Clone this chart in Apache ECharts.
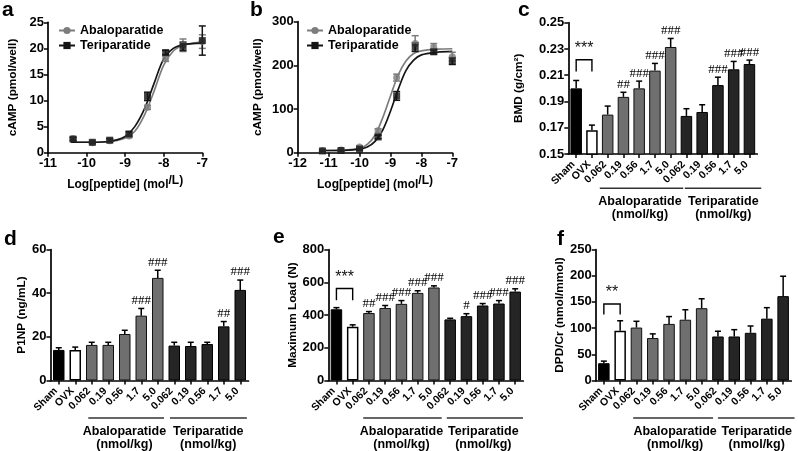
<!DOCTYPE html>
<html><head><meta charset="utf-8">
<script src="https://cdn.jsdelivr.net/npm/echarts@6/dist/echarts.min.js"></script>
<style>html,body{margin:0;padding:0;background:#fff}#c{width:798px;height:451px}</style>
</head><body><div id="c"></div>
<script>
// ---------------- DATA ----------------
// Panel a (cAMP, pmol/well)
const aPointX      = [-10.35, -9.85, -9.4, -8.9, -8.42, -7.95, -7.5, -7.0];
const aAbaloY      = [2.7, 1.9, 2.3, 3.2, 8.7, 18.0, 20.6, 21.3];
const aAbaloErr    = [0.3, 0.2, 0.3, 0.3, 0.4, 0.5, 1.2, 1.3];
const aTeriY       = [2.6, 2.0, 2.4, 3.6, 10.8, 19.2, 20.4, 21.5];
const aTeriErr     = [0.3, 0.2, 0.3, 0.4, 0.8, 0.4, 0.8, 2.8];
const aCurveX      = [-10.4, -10.0, -9.5, -9.25, -9.0, -8.75, -8.5, -8.25, -8.0, -7.75, -7.5, -7.25, -7.0];
const aAbaloCurve  = [2.0, 2.0, 2.05, 2.3, 2.8, 4.1, 7.2, 11.8, 16.8, 19.5, 20.6, 21.0, 21.2];
const aTeriCurve   = [2.0, 2.0, 2.1, 2.4, 3.1, 5.0, 8.4, 13.3, 18.0, 20.0, 20.7, 20.9, 21.0];

// Panel b (cAMP, pmol/well)
const bPointX      = [-11.2, -10.6, -10.0, -9.4, -8.8, -8.2, -7.6, -7.0];
const bAbaloY      = [5, 6, 13, 50, 172, 250, 242, 220];
const bAbaloErr    = [2, 2, 3, 5, 8, 18, 8, 10];
const bTeriY       = [4, 5, 8, 36, 130, 242, 231, 210];
const bTeriErr     = [1, 1, 2, 4, 10, 10, 5, 8];
const bCurveX      = [-11.2, -10.5, -10.0, -9.75, -9.5, -9.25, -9.0, -8.75, -8.5, -8.25, -8.0, -7.5, -7.0];
const bAbaloCurve  = [5, 6, 10, 19, 40, 80, 130, 178, 210, 227, 233, 237, 238];
const bTeriCurve   = [5, 5.5, 8, 13, 26, 52, 95, 145, 188, 212, 224, 230, 232];

// Bar panels: shared categories
const barCategories = ['Sham', 'OVX', '0.062', '0.19', '0.56', '1.7', '5.0', '0.062', '0.19', '0.56', '1.7', '5.0'];
const barGroupOf    = [0, 1, 2, 2, 2, 2, 2, 3, 3, 3, 3, 3]; // 0 Sham, 1 OVX, 2 Abaloparatide, 3 Teriparatide
const groupNames    = ['Abaloparatide', 'Teriparatide'];
const groupUnit     = '(nmol/kg)';

// Panel c: BMD (g/cm2)
const cBMD     = [0.200, 0.168, 0.180, 0.1935, 0.200, 0.2135, 0.2315, 0.179, 0.182, 0.2025, 0.2145, 0.2185];
const cBMDErr  = [0.006, 0.004, 0.0065, 0.0035, 0.0055, 0.0055, 0.0065, 0.0055, 0.0055, 0.006, 0.006, 0.003];
const cMarks   = ['', '', '', '##', '###', '###', '###', '', '', '###', '###', '###'];
const cBracket = [0.2218, 0.2128, '***'];

// Panel d: P1NP (ng/mL)
const dP1NP    = [14.0, 14.0, 16.3, 16.3, 21.3, 29.7, 47.0, 16.0, 15.8, 16.7, 24.8, 41.5];
const dP1NPErr = [1.0, 1.3, 1.2, 1.2, 1.7, 3.3, 3.5, 1.5, 1.7, 0.8, 2.2, 4.5];
const dMarks   = ['', '', '', '', '', '###', '###', '', '', '', '##', '###'];

// Panel e: Maximum Load (N)
const eLoad    = [435, 328, 412, 443, 468, 535, 568, 373, 393, 458, 470, 543];
const eLoadErr = [10, 12, 9, 15, 20, 13, 10, 7, 15, 12, 18, 17];
const eMarks   = ['', '', '##', '###', '###', '###', '###', '', '#', '###', '###', '###'];
const eBracket = [562, 490, '***'];

// Panel f: DPD/Cr (nmol/mmol)
const fDPD     = [33, 95, 101, 81, 108, 116, 138, 84, 84, 91, 118, 161];
const fDPDErr  = [4, 19, 12, 8, 14, 19, 18, 10, 13, 13, 21, 38];
const fMarks   = ['', '', '', '', '', '', '', '', '', '', '', ''];
const fBracket = [146, 126, '**'];

// ---------------- STYLE / LAYOUT ----------------
const FONT = 'Liberation Sans, Arial, sans-serif';
const GRAY = '#7d7d7d', BLACK = '#151515';
const barStyles = [
  { color: '#000', borderColor: '#000', borderWidth: 1 },
  { color: '#fff', borderColor: '#000', borderWidth: 1.5 },
  { color: '#6f6f6f', borderColor: '#111', borderWidth: 1 },
  { color: '#252525', borderColor: '#000', borderWidth: 1 }
];
const grids = [
  { left: 48,    top: 22.3,  width: 154.3, height: 130.4 },
  { left: 297.7, top: 21.7,  width: 154.6, height: 131 },
  { left: 568.3, top: 22.7,  width: 189,   height: 131.3 },
  { left: 50.5,  top: 249.5, width: 198,   height: 131 },
  { left: 328.3, top: 249.5, width: 195,   height: 131 },
  { left: 595.7, top: 249.5, width: 195.6, height: 131 }
];
const axisLine = { show: true, onZero: false, lineStyle: { color: '#000', width: 1.7 } };
const axisTick = { show: true, length: 4, lineStyle: { color: '#000', width: 1.5 } };
const tickLabel = { color: '#000', fontWeight: 'bold', fontSize: 13, fontFamily: FONT, margin: 4 };
const nameStyle = { color: '#000', fontWeight: 'bold', fontSize: 11.8, fontFamily: FONT };

function valueY(gi, min, max, interval, name, gap, fmt) {
  return {
    type: 'value', gridIndex: gi, min, max, interval,
    name, nameLocation: 'middle', nameGap: gap, nameTextStyle: nameStyle,
    axisLine, axisTick, splitLine: { show: false },
    axisLabel: Object.assign({}, tickLabel, fmt ? { formatter: fmt } : {})
  };
}
function catX(gi) {
  return {
    type: 'category', gridIndex: gi, data: barCategories,
    axisLine, axisTick: Object.assign({ alignWithLabel: true, interval: 0 }, axisTick),
    axisLabel: { interval: 0, rotate: 45, color: '#000', fontWeight: 'bold', fontSize: 10.5, fontFamily: FONT,
      margin: 6, padding: [0, 4, 0, 0] },
    splitLine: { show: false }
  };
}
const logName = {
  name: 'Log[peptide] (mol{s|/L)}', nameLocation: 'middle', nameGap: 22,
  nameTextStyle: { color: '#000', fontWeight: 'bold', fontSize: 12, fontFamily: FONT,
    rich: { s: { color: '#000', fontWeight: 'bold', fontSize: 12, fontFamily: FONT, padding: [0, 0, 8, 0] } } }
};

const xAxes = [
  Object.assign({ type: 'value', gridIndex: 0, min: -11, max: -7, interval: 1, axisLine, axisTick, axisLabel: tickLabel, splitLine: { show: false } }, logName),
  Object.assign({ type: 'value', gridIndex: 1, min: -12, max: -7, interval: 1, axisLine, axisTick, axisLabel: tickLabel, splitLine: { show: false } }, logName),
  catX(2), catX(3), catX(4), catX(5)
];
const yAxes = [
  valueY(0, 0, 25, 5, 'cAMP (pmol/well)', 29),
  valueY(1, 0, 300, 100, 'cAMP (pmol/well)', 34),
  valueY(2, 0.15, 0.25, 0.02, 'BMD (g/cm²)', 44, v => v.toFixed(2)),
  valueY(3, 0, 60, 20, 'P1NP (ng/mL)', 21),
  valueY(4, 0, 800, 200, 'Maximum Load (N)', 25),
  valueY(5, 0, 250, 50, 'DPD/Cr (nmol/mmol)', 26)
];

// ------------- series builders -------------
function zip(xs, ys) { return xs.map((x, i) => [x, ys[i]]); }

function curveSeries(gi, name, xs, ys, color, symbol) {
  return { type: 'line', name, xAxisIndex: gi, yAxisIndex: gi, data: zip(xs, ys),
    smooth: 0.35, showSymbol: false, symbol, symbolSize: 7,
    lineStyle: { color, width: 1.7 }, itemStyle: { color }, z: 2, silent: true };
}
function pointSeries(gi, xs, ys, errs, color, symbol, size) {
  return [
    { type: 'custom', xAxisIndex: gi, yAxisIndex: gi, z: 3, silent: true,
      data: xs.map((x, i) => [x, ys[i], errs[i]]),
      renderItem: (p, api) => {
        const x = api.value(0), y = api.value(1), e = api.value(2);
        const lo = api.coord([x, y - e]), hi = api.coord([x, y + e]);
        const w = 3.5, st = { stroke: color, lineWidth: 1.5 };
        return { type: 'group', children: [
          { type: 'line', shape: { x1: lo[0], y1: lo[1], x2: hi[0], y2: hi[1] }, style: st },
          { type: 'line', shape: { x1: hi[0] - w, y1: hi[1], x2: hi[0] + w, y2: hi[1] }, style: st },
          { type: 'line', shape: { x1: lo[0] - w, y1: lo[1], x2: lo[0] + w, y2: lo[1] }, style: st }
        ] };
      } },
    { type: 'scatter', xAxisIndex: gi, yAxisIndex: gi, z: 4, silent: true,
      data: zip(xs, ys), symbol, symbolSize: size, itemStyle: { color } }
  ];
}
function barSeries(gi, vals, errs, marks, bracket) {
  const out = [
    { type: 'bar', xAxisIndex: gi, yAxisIndex: gi, barWidth: 11.5, z: 2, silent: true,
      data: vals.map((v, i) => ({ value: v, itemStyle: barStyles[barGroupOf[i]] })) },
    { type: 'custom', xAxisIndex: gi, yAxisIndex: gi, z: 3, silent: true,
      data: vals.map((v, i) => [i, v, errs[i]]),
      renderItem: (p, api) => {
        const i = api.value(0), v = api.value(1), e = api.value(2);
        const b = api.coord([i, v]), t = api.coord([i, v + e]);
        const w = 3, st = { stroke: '#000', lineWidth: 1.5 };
        const ch = [
          { type: 'line', shape: { x1: b[0], y1: b[1], x2: t[0], y2: t[1] }, style: st },
          { type: 'line', shape: { x1: t[0] - w, y1: t[1], x2: t[0] + w, y2: t[1] }, style: st }
        ];
        const m = marks[p.dataIndex];
        if (m) ch.push({ type: 'text', x: t[0], y: t[1] - 8,
          style: { text: m, align: 'center', verticalAlign: 'middle', fontSize: 13, fontFamily: 'Liberation Serif, serif', fill: '#000' } });
        return { type: 'group', children: ch };
      } }
  ];
  if (bracket) {
    out.push({ type: 'custom', xAxisIndex: gi, yAxisIndex: gi, z: 3, silent: true,
      data: [[0, bracket[0], bracket[1]]],
      renderItem: (p, api) => {
        const top = api.value(1), leg = api.value(2);
        const l0 = api.coord([0, leg]), l1 = api.coord([0, top]);
        const r1 = api.coord([1, top]), r0 = api.coord([1, leg]);
        return { type: 'group', children: [
          { type: 'polyline', shape: { points: [l0, l1, r1, r0] }, style: { stroke: '#000', lineWidth: 1.4, fill: null } },
          { type: 'text', x: (l1[0] + r1[0]) / 2, y: l1[1] - 3,
            style: { text: bracket[2], align: 'center', verticalAlign: 'bottom', fontSize: 16, fontFamily: FONT, fill: '#111' } }
        ] };
      } });
  }
  return out;
}

const series = [
  curveSeries(0, 'Abaloparatide', aCurveX, aAbaloCurve, GRAY, 'circle'),
  curveSeries(0, 'Teriparatide', aCurveX, aTeriCurve, BLACK, 'rect'),
  ...pointSeries(0, aPointX, aAbaloY, aAbaloErr, GRAY, 'circle', 7),
  ...pointSeries(0, aPointX, aTeriY, aTeriErr, BLACK, 'rect', 7),
  curveSeries(1, 'Abaloparatide', bCurveX, bAbaloCurve, GRAY, 'circle'),
  curveSeries(1, 'Teriparatide', bCurveX, bTeriCurve, BLACK, 'rect'),
  ...pointSeries(1, bPointX, bAbaloY, bAbaloErr, GRAY, 'circle', 7),
  ...pointSeries(1, bPointX, bTeriY, bTeriErr, BLACK, 'rect', 7),
  ...barSeries(2, cBMD, cBMDErr, cMarks, cBracket),
  ...barSeries(3, dP1NP, dP1NPErr, dMarks, null),
  ...barSeries(4, eLoad, eLoadErr, eMarks, eBracket),
  ...barSeries(5, fDPD, fDPDErr, fMarks, fBracket)
];

function legendAt(left) {
  return { orient: 'vertical', left, top: 19, itemWidth: 16, itemHeight: 9, itemGap: 2,
    data: ['Abaloparatide', 'Teriparatide'], selectedMode: false,
    textStyle: { color: '#000', fontWeight: 'bold', fontSize: 12.5, fontFamily: FONT, padding: [0, 0, 0, 0] } };
}

const panelLetters = [['a', 2, 10.7], ['b', 250, 10.7], ['c', 518, 10.7], ['d', 4, 239.4], ['e', 273, 237.7], ['f', 557, 239.7]];

const chart = echarts.init(document.getElementById('c'), null, { renderer: 'canvas' });
chart.setOption({
  animation: false,
  backgroundColor: '#fff',
  grid: grids,
  xAxis: xAxes,
  yAxis: yAxes,
  legend: [legendAt(53), legendAt(301)],
  series
});

// group labels under bar panels (positions from the axes themselves)
// [line A start, line A end, line T start, line T end, text A centre, text T centre] in category units from axis start
const groupLayout = {
  2: [2.0, 7.3, 7.4, 12.25, 4.55, 9.84],
  3: [2.29, 6.88, 7.24, 11.9, 4.48, 9.56],
  4: [2.15, 6.98, 7.29, 11.98, 4.5, 9.54],
  5: [2.3, 7.2, 7.5, 12.2, 4.87, 9.88]
};
const rowOffsets = { top: [34.3, 47.7, 61], bottom: [37.5, 51, 64.5] };
const graphics = panelLetters.map(([t, x, y]) => ({
  type: 'text', x, y,
  style: { text: t, fontSize: 21, fontWeight: 'bold', fontFamily: FONT, fill: '#000', verticalAlign: 'middle', align: 'left' }
}));
Object.keys(groupLayout).forEach(k => {
  const gi = +k, L = groupLayout[k];
  const p0 = chart.convertToPixel({ xAxisIndex: gi }, 0);
  const p1 = chart.convertToPixel({ xAxisIndex: gi }, 1);
  const step = p1 - p0, start = p0 - step / 2;
  const base = chart.convertToPixel({ yAxisIndex: gi }, yAxes[gi].min);
  const off = gi === 2 ? rowOffsets.top : rowOffsets.bottom;
  const X = u => start + u * step;
  const lineSt = { stroke: '#333', lineWidth: 1.5 };
  graphics.push(
    { type: 'line', shape: { x1: X(L[0]), y1: base + off[0], x2: X(L[1]), y2: base + off[0] }, style: lineSt },
    { type: 'line', shape: { x1: X(L[2]), y1: base + off[0], x2: X(L[3]), y2: base + off[0] }, style: lineSt }
  );
  [[groupNames[0], L[4]], [groupNames[1], L[5]]].forEach(([txt, u]) => {
    graphics.push(
      { type: 'text', x: X(u), y: base + off[1], style: { text: txt, align: 'center', verticalAlign: 'middle', fontSize: 12.5, fontWeight: 'bold', fontFamily: FONT, fill: '#000' } },
      { type: 'text', x: X(u), y: base + off[2], style: { text: groupUnit, align: 'center', verticalAlign: 'middle', fontSize: 12.5, fontWeight: 'bold', fontFamily: FONT, fill: '#000' } }
    );
  });
});
chart.setOption({ graphic: graphics });
</script>
</body></html>
